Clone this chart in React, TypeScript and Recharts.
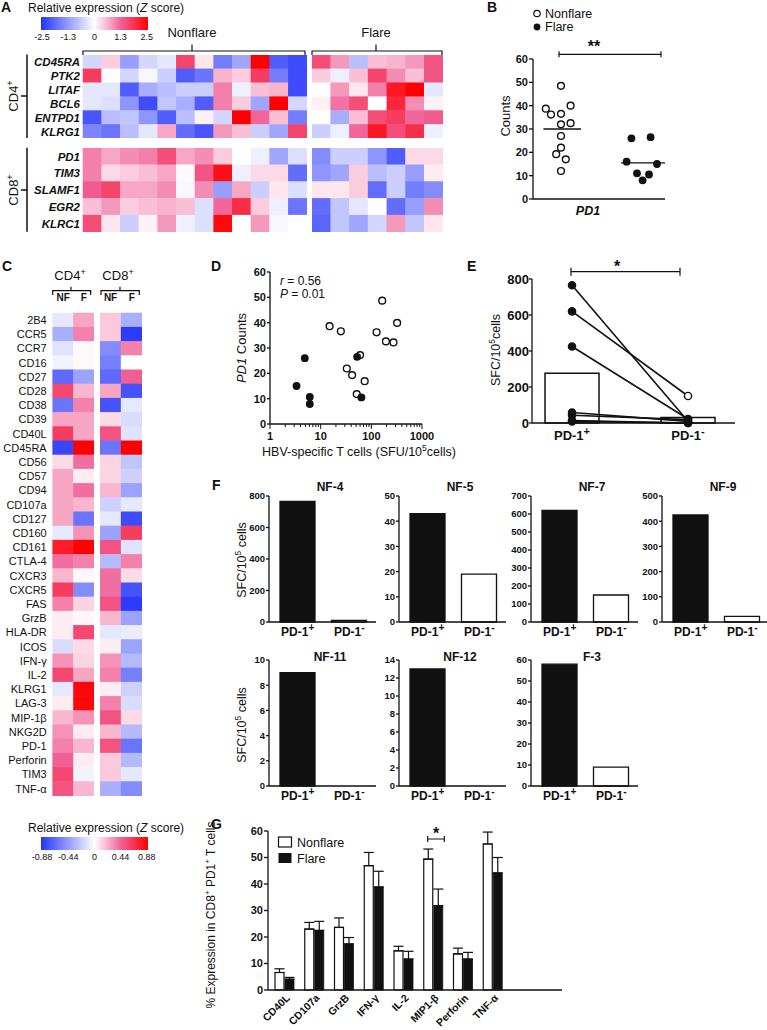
import React from 'react';
import {
  ScatterChart, Scatter, XAxis, YAxis, ComposedChart, Bar, Line, BarChart, Cell, ErrorBar, ReferenceLine,
} from 'recharts';

const FONT = '"Liberation Sans", Arial, Helvetica, sans-serif';
const INK = '#111';

/* ---------------- Panel A ---------------- */
const aGenesCD4 = ['CD45RA', 'PTK2', 'LITAF', 'BCL6', 'ENTPD1', 'KLRG1'];
const aGenesCD8 = ['PD1', 'TIM3', 'SLAMF1', 'EGR2', 'KLRC1'];
const aCD4Nonflare = [
  [-0.5, 0.4, -1.2, -0.5, -0.3, 1.6, 0.2, -1.6, -1.1, 2.5, -2.0, -2.2],
  [1.7, 0, -0.5, -0.1, -0.6, -2.0, -1.7, 0.6, 0.4, 1.7, -1.6, -2.2],
  [-0.3, -0.3, -2.0, -1.0, -0.8, -0.6, -0.6, 1.0, -0.2, 0.5, 0.6, -2.2],
  [-0.3, -0.4, -1.3, -2.2, -0.7, -1.0, -2.0, 1.0, 0.4, -1.1, 2.5, -0.5],
  [-2.1, -0.8, -0.7, -1.3, -2.0, -0.8, 0.1, -0.5, 2.5, 1.2, 0.5, -1.6],
  [-1.5, -1.7, -0.8, -0.3, 0.7, -1.8, -2.1, 0.8, 0.5, -0.6, -1.1, 1.6],
];
const aCD4Flare = [
  [1.5, 0.8, -0.8, 0.5, 0.6, 0.8, 1.4],
  [0.4, -0.2, 0.5, 1.6, 0.9, 0.5, 1.4],
  [0, 0.8, 0.2, 1.0, 2.2, 2.5, -0.3],
  [0.1, 1.1, 1.5, 0, 2.0, 0.9, 0.1],
  [0, -1.0, 0.5, 1.5, 1.7, 1.2, 1.3],
  [-0.6, -0.2, 1.2, 2.2, 1.5, 1.9, -0.2],
];
const aCD8Nonflare = [
  [1.0, 0.7, 0.9, 1.0, 1.5, 0.7, 0.9, 0.4, 0, -0.2, -1.1, -0.4],
  [1.0, 0.3, 0.4, 0.5, 0.7, 0.05, 1.4, 2.3, -0.2, 0.3, 0.3, -1.8],
  [1.3, 1.6, 0.7, 0.7, 0.9, -0.1, 0.9, -1.2, 0.7, -0.6, 0.2, -0.4],
  [0.5, 0.8, 0.4, 0.5, 0.6, 0.5, -0.4, 1.2, 1.9, 0.4, -0.2, -1.7],
  [1.5, 0.2, -0.6, 0.1, 0.8, -0.2, -0.4, 2.4, 0, 0.8, -0.1, 0],
];
const aCD8Flare = [
  [-1.4, -0.6, -0.6, -1.3, -2.0, 0.3, 0.3],
  [-1.3, -1.1, 0.4, -0.8, -0.6, -1.2, 0.15],
  [0.2, 0.2, 0.4, -1.8, -0.6, -1.6, -1.4],
  [-1.8, -0.7, -0.3, 0, -1.8, -1.2, 0.9],
  [-1.9, -0.7, -1.1, -0.5, 0.8, -0.7, 0.2],
];
const aScaleTicks = ['-2.5', '-1.3', '0', '1.3', '2.5'];
const aZMax = 2.5;

/* ---------------- Panel B ---------------- */
const bNonflareCounts = [48.5, 38.7, 36.2, 36.5, 40, 32, 32.5, 27, 22, 19.2, 17, 12];
const bNonflareJitter = [0, -0.19, -0.125, 0, 0.12, 0, 0.12, 0, 0, -0.06, 0.06, 0];
const bFlareCounts = [26, 26.5, 16, 15, 11, 10.5, 8];
const bFlareJitter = [-0.12, 0.12, -0.18, 0.2, -0.05, 0.1, 0.02];
const bMedians = [30, 15.5];
const bTicks = [0, 10, 20, 30, 40, 50, 60];

/* ---------------- Panel C ---------------- */
const cMarkers = ['2B4', 'CCR5', 'CCR7', 'CD16', 'CD27', 'CD28', 'CD38', 'CD39', 'CD40L', 'CD45RA', 'CD56', 'CD57',
  'CD94', 'CD107a', 'CD127', 'CD160', 'CD161', 'CTLA-4', 'CXCR3', 'CXCR5', 'FAS', 'GrzB', 'HLA-DR', 'ICOS',
  'IFN-γ', 'IL-2', 'KLRG1', 'LAG-3', 'MIP-1β', 'NKG2D', 'PD-1', 'Perforin', 'TIM3', 'TNF-α'];
const cCD4NF = [-0.1, -0.35, -0.12, -0.05, -0.65, 0.55, -0.6, 0.25, 0.6, -0.8, 0.1, 0.25, 0.25, 0.25, 0.25, -0.1, 0.75,
  0.4, 0.2, 0.6, 0.35, 0.05, 0.05, -0.15, 0.3, 0.55, -0.1, 0.05, 0.2, 0.3, 0.35, 0.45, 0.55, 0.5];
const cCD4F = [0.25, 0.35, 0.02, 0.02, -0.4, 0.2, 0.35, 0.25, 0.25, 0.88, 0.4, 0.05, 0.4, 0.2, -0.6, 0.3, 0.88,
  0.35, 0.02, -0.5, 0.12, 0.02, 0.55, 0.1, 0.12, 0.25, 0.85, 0.85, 0.3, 0.05, 0.2, 0.05, -0.05, 0.2];
const cCD8NF = [0.15, 0.15, -0.5, -0.55, -0.65, 0.25, -0.75, 0.1, 0.5, -0.6, 0.12, 0.12, 0.2, -0.2, -0.1, -0.4, 0.5,
  -0.3, 0.4, 0.4, 0.5, 0.2, -0.1, 0.05, 0.3, 0.35, 0.05, 0.35, 0.5, 0.2, 0.5, 0.15, 0.15, -0.35];
const cCD8F = [-0.35, -0.85, 0.35, 0, 0.45, -0.75, -0.1, -0.15, -0.12, 0.88, -0.25, -0.2, -0.4, -0.1, -0.78, 0.6,
  -0.12, 0.35, 0.1, -0.75, -0.85, -0.4, -0.08, -0.4, -0.3, -0.55, -0.2, -0.15, 0.1, -0.3, -0.6, -0.3, -0.1, -0.5];
const cGroups = ['NF', 'F'];
const cScaleTicks = ['-0.88', '-0.44', '0', '0.44', '0.88'];
const cZMax = 0.88;

/* ---------------- Panel D ---------------- */
const dNonflareSFU = [15, 25, 164, 127, 194, 274, 323, 32.8, 41.8, 73.9, 60, 51.5];
const dNonflareCounts = [38.6, 36.6, 48.7, 36.2, 32.6, 32.2, 39.9, 21.9, 19.3, 16.9, 27.2, 11.8];
const dFlareSFU = [4.86, 3.34, 52.4, 6.1, 6.1, 63.7];
const dFlareCounts = [26, 15, 26.5, 10.7, 7.9, 10.5];
const dMajorTicks = [1, 10, 100, 1000];
const dMinorTicks = [2, 3, 4, 5, 6, 7, 8, 9, 20, 30, 40, 50, 60, 70, 80, 90, 200, 300, 400, 500, 600, 700, 800, 900];
const dYTicks = [0, 10, 20, 30, 40, 50, 60];

/* ---------------- Panels E & F ---------------- */
const fSubjects = ['NF-4', 'NF-5', 'NF-7', 'NF-9', 'NF-11', 'NF-12', 'F-3'];
const fPD1Pos = [765, 43, 620, 425, 9, 13, 58];
const fPD1Neg = [10, 19, 150, 22, 0, 0, 9];
const fCategories = ['PD-1+', 'PD-1-'];
const fTicks = [
  [0, 200, 400, 600, 800],
  [0, 10, 20, 30, 40, 50],
  [0, 100, 200, 300, 400, 500, 600, 700],
  [0, 100, 200, 300, 400, 500],
  [0, 2, 4, 6, 8, 10],
  [0, 2, 4, 6, 8, 10, 12, 14],
  [0, 10, 20, 30, 40, 50, 60],
];
const eMeans = [276, 30];
const eOpenAtNeg = [false, false, true, false, false, false, false];
const eYTicks = [0, 200, 400, 600, 800];

/* ---------------- Panel G ---------------- */
const gMarkers = ['CD40L', 'CD107a', 'GrzB', 'IFN-γ', 'IL-2', 'MIP1-β', 'Perforin', 'TNF-α'];
const gNonflare = [6.6, 23.0, 23.6, 46.9, 14.8, 49.4, 13.6, 55.1];
const gNonflareSEM = [1.4, 2.5, 3.6, 5.0, 1.7, 3.8, 2.2, 4.5];
const gFlare = [4.1, 22.5, 17.4, 38.9, 11.7, 31.8, 11.7, 44.2];
const gFlareSEM = [0.65, 3.4, 2.4, 5.9, 2.9, 6.3, 2.5, 5.8];
const gTicks = [0, 10, 20, 30, 40, 50, 60];

/* ---------------- helpers ---------------- */
const BLUE = [38, 52, 250];
const PINK = [240, 96, 150];
const RED = [255, 0, 0];
const WHITE = [255, 255, 255];
function mix(a: number[], b: number[], f: number) {
  return a.map((v, i) => Math.round(v + (b[i] - v) * f));
}
function zColor(z: number, max: number) {
  const t = Math.max(-1, Math.min(1, z / max));
  let c: number[];
  if (t < 0) c = mix(WHITE, BLUE, -t);
  else if (t < 0.5) c = mix(WHITE, PINK, t / 0.5);
  else c = mix(PINK, RED, (t - 0.5) / 0.5);
  return `rgb(${c.join(',')})`;
}

const axisStyle = { stroke: INK, strokeWidth: 1.3 };

const yTick = (fs: number) => (t: any) => (
  <text x={t.x} y={t.y} dy="0.36em" textAnchor="end" fontSize={fs} fontWeight="bold" fontFamily={FONT} fill={INK}>
    {t.payload.value}
  </text>
);

const pdTick = (fs: number, dy: number, labels?: string[]) => (t: any) => {
  const v = labels ? labels[Math.round(t.payload.value) - 1] : String(t.payload.value);
  if (!v) return <g />;
  return (
    <text x={t.x} y={t.y + dy} textAnchor="middle" fontSize={fs} fontWeight="bold" fontFamily={FONT} fill={INK}>
      {v.slice(0, -1)}
      <tspan dy={-fs * 0.38} fontSize={fs * 0.85}>{v.slice(-1)}</tspan>
    </text>
  );
};

type HMProps = {
  matrix: number[][]; zMax: number; left: number; top: number; width: number; height: number;
  rowLabels?: string[]; labelWidth?: number; labelGap?: number;
  labelSize?: number; labelWeight?: string; labelStyle?: string;
  colLabels?: string[]; colLabelHeight?: number; colLabelOffset?: number;
};

function Heatmap(p: HMProps) {
  const rows = p.matrix.length;
  const cols = p.matrix[0].length;
  const cells = p.matrix.flatMap((r, i) => r.map((z, j) => ({ col: j, row: i, z })));
  const cw = p.width / cols;
  const ch = p.height / rows;
  const lw = p.rowLabels ? (p.labelWidth ?? 80) : 0;
  const th = p.colLabels ? (p.colLabelHeight ?? 18) : 0;
  const rowIdx = Array.from({ length: rows }, (_, i) => i);
  const colIdx = Array.from({ length: cols }, (_, i) => i);
  return (
    <div style={{ position: 'absolute', left: p.left - lw, top: p.top - th }}>
      <ScatterChart width={lw + p.width} height={th + p.height} margin={{ top: 0, right: 0, bottom: 0, left: 0 }}>
        <XAxis
          type="number" dataKey="col" domain={[-0.5, cols - 0.5]} orientation="top" hide={!p.colLabels}
          height={th} ticks={colIdx} interval={0} axisLine={false} tickLine={false} tickSize={0} tickMargin={0}
          tick={(t: any) => (
            <text x={t.x} y={t.y - (p.colLabelOffset ?? 4)} textAnchor="middle" fontSize={10} fontWeight="bold"
              fontFamily={FONT} fill={INK}>
              {p.colLabels ? p.colLabels[t.payload.value] : ''}
            </text>
          )}
        />
        <YAxis
          type="number" dataKey="row" domain={[-0.5, rows - 0.5]} reversed hide={!p.rowLabels} width={lw}
          ticks={rowIdx} interval={0} axisLine={false} tickLine={false} tickSize={p.labelGap ?? 3} tickMargin={0}
          tick={(t: any) => (
            <text x={t.x} y={t.y} dy="0.36em" textAnchor="end" fontSize={p.labelSize ?? 11}
              fontWeight={p.labelWeight ?? 'normal'} fontStyle={p.labelStyle ?? 'normal'} fontFamily={FONT} fill={INK}>
              {p.rowLabels ? p.rowLabels[t.payload.value] : ''}
            </text>
          )}
        />
        <Scatter
          data={cells}
          isAnimationActive={false}
          shape={(s: any) => (
            <rect x={s.cx - cw / 2 - 0.3} y={s.cy - ch / 2 - 0.3} width={cw + 0.6} height={ch + 0.6}
              fill={zColor(s.payload.z, p.zMax)} />
          )}
        />
      </ScatterChart>
    </div>
  );
}

const openDot = (r: number) => (s: any) => (
  <circle cx={s.cx} cy={s.cy} r={r} fill="#fff" stroke={INK} strokeWidth={1.4} />
);
const fillDot = (r: number) => (s: any) => <circle cx={s.cx} cy={s.cy} r={r + 0.5} fill={INK} />;

/* ---------------- Panel B chart ---------------- */
function PanelB() {
  const nf = bNonflareCounts.map((y, i) => ({ x: 1 + bNonflareJitter[i], y }));
  const fl = bFlareCounts.map((y, i) => ({ x: 2 + bFlareJitter[i], y }));
  return (
    <div style={{ position: 'absolute', left: 478, top: 49 }}>
      <ScatterChart width={195} height={160} margin={{ top: 10, right: 8, bottom: 6, left: 0 }}>
        <XAxis type="number" dataKey="x" domain={[0.65, 2.3]} tick={false} tickLine={false} height={4}
          axisLine={axisStyle} allowDataOverflow />
        <YAxis type="number" dataKey="y" domain={[0, 60]} ticks={bTicks} interval={0} width={55} tickSize={4}
          tickMargin={1} axisLine={axisStyle} tickLine={axisStyle} tick={yTick(11)} />
        <ReferenceLine segment={[{ x: 0.78, y: bMedians[0] }, { x: 1.25, y: bMedians[0] }]} stroke={INK} strokeWidth={1.3} />
        <ReferenceLine segment={[{ x: 1.75, y: bMedians[1] }, { x: 2.3, y: bMedians[1] }]} stroke={INK} strokeWidth={1.3} />
        <Scatter data={nf} isAnimationActive={false} shape={openDot(3.4)} />
        <Scatter data={fl} isAnimationActive={false} shape={fillDot(3.4)} />
      </ScatterChart>
    </div>
  );
}

/* ---------------- Panel D chart ---------------- */
function PanelD() {
  const nf = dNonflareSFU.map((x, i) => ({ x, y: dNonflareCounts[i] }));
  const fl = dFlareSFU.map((x, i) => ({ x, y: dFlareCounts[i] }));
  const xTicks = [...dMajorTicks, ...dMinorTicks].sort((a, b) => a - b);
  const xTick = (t: any) => {
    const v = t.payload.value;
    const major = dMajorTicks.includes(v);
    return (
      <g>
        <line x1={t.x} x2={t.x} y1={t.y} y2={t.y + (major ? 5 : 3)} stroke={INK} strokeWidth={1} />
        {major && (
          <text x={t.x} y={t.y + 15.5} textAnchor="middle" fontSize={11} fontWeight="bold" fontFamily={FONT} fill={INK}>
            {v}
          </text>
        )}
      </g>
    );
  };
  return (
    <div style={{ position: 'absolute', left: 230, top: 262 }}>
      <ScatterChart width={212} height={184} margin={{ top: 10, right: 20, bottom: 2, left: 0 }}>
        <XAxis type="number" dataKey="x" scale="log" domain={[1, 1000]} ticks={xTicks} interval={0} height={20}
          tickLine={false} tickSize={0} tickMargin={0} axisLine={axisStyle} tick={xTick} allowDataOverflow />
        <YAxis type="number" dataKey="y" domain={[0, 60]} ticks={dYTicks} interval={0} width={40} tickSize={3}
          tickMargin={1} axisLine={axisStyle} tickLine={axisStyle} tick={yTick(11)} />
        <Scatter data={nf} isAnimationActive={false} shape={openDot(3.4)} />
        <Scatter data={fl} isAnimationActive={false} shape={fillDot(3.4)} />
      </ScatterChart>
    </div>
  );
}

/* ---------------- Panel E chart ---------------- */
function PanelE() {
  const rows = [0, 1].map((k) => {
    const r: any = { x: k + 1, mean: eMeans[k] };
    fSubjects.forEach((_, i) => {
      r[`s${i}`] = k === 0 ? fPD1Pos[i] : fPD1Neg[i];
    });
    return r;
  });
  return (
    <div style={{ position: 'absolute', left: 482, top: 269 }}>
      <ComposedChart width={259} height={178} data={rows} margin={{ top: 10, right: 6, bottom: 2, left: 0 }}>
        <XAxis type="number" dataKey="x" domain={[0.655, 2.405]} ticks={[1, 2]} interval={0} height={22}
          tickLine={false} tickSize={0} tickMargin={0} axisLine={axisStyle} tick={pdTick(13, 17, fCategories)} />
        <YAxis type="number" domain={[0, 800]} ticks={eYTicks} interval={0} width={50} tickSize={3} tickMargin={0}
          axisLine={axisStyle} tickLine={axisStyle} tick={yTick(13)} />
        <Bar dataKey="mean" barSize={54} fill="#fff" stroke={INK} strokeWidth={1.5} isAnimationActive={false} />
        {fSubjects.map((s, i) => (
          <Line
            key={s}
            dataKey={`s${i}`}
            stroke={INK}
            strokeWidth={1.6}
            isAnimationActive={false}
            dot={(d: any) => {
              const open = d.index === 1 && eOpenAtNeg[i];
              return (
                <circle key={`${s}-${d.index}`} cx={d.cx} cy={d.cy} r={3.6} fill={open ? '#fff' : INK}
                  stroke={INK} strokeWidth={1.4} />
              );
            }}
          />
        ))}
      </ComposedChart>
    </div>
  );
}

/* ---------------- Panel F charts ---------------- */
function FPanel({ i, left, top }: { i: number; left: number; top: number }) {
  const data = [
    { cat: fCategories[0], v: fPD1Pos[i] },
    { cat: fCategories[1], v: fPD1Neg[i] },
  ];
  const ticks = fTicks[i];
  return (
    <div style={{ position: 'absolute', left: left - 36, top: top - 8 }}>
      <BarChart width={146} height={156} data={data} margin={{ top: 8, right: 3, bottom: 2, left: 0 }}>
        <XAxis dataKey="cat" height={20} padding={{ left: 3, right: 1 }} interval={0} tickLine={false} tickSize={0}
          tickMargin={0} axisLine={axisStyle} tick={pdTick(12, 14)} />
        <YAxis type="number" domain={[0, ticks[ticks.length - 1]]} ticks={ticks} interval={0} width={36} tickSize={3}
          tickMargin={1} axisLine={axisStyle} tickLine={axisStyle} tick={yTick(9.5)} />
        <Bar dataKey="v" barSize={35} stroke={INK} strokeWidth={1.3} isAnimationActive={false}>
          <Cell fill={INK} />
          <Cell fill="#fff" />
        </Bar>
      </BarChart>
    </div>
  );
}

/* ---------------- Panel G chart ---------------- */
function PanelG() {
  const rows = gMarkers.map((name, i) => ({
    name,
    nf: gNonflare[i],
    nfErr: [0, gNonflareSEM[i]],
    fl: gFlare[i],
    flErr: [0, gFlareSEM[i]],
  }));
  const rotTick = (t: any) => {
    const x = t.x + 3;
    const y = t.y + 6;
    return (
      <text x={x} y={y} dy="0.35em" transform={`rotate(-45 ${x} ${y})`} textAnchor="end" fontSize={10.5}
        fontWeight="bold" fontFamily={FONT} fill={INK}>
        {t.payload.value}
      </text>
    );
  };
  return (
    <div style={{ position: 'absolute', left: 228.3, top: 821 }}>
      <BarChart width={338} height={207} data={rows} margin={{ top: 10, right: 4, bottom: 0, left: 0 }} barGap={1}
        barSize={9}>
        <XAxis dataKey="name" height={38} padding={{ left: 2, right: 54 }} interval={0} tickLine={false} tickSize={0}
          tickMargin={0} axisLine={axisStyle} tick={rotTick} />
        <YAxis type="number" domain={[0, 60]} ticks={gTicks} interval={0} width={40} tickSize={4} tickMargin={1}
          axisLine={axisStyle} tickLine={axisStyle} tick={yTick(11)} />
        <Bar dataKey="nf" fill="#fff" stroke={INK} strokeWidth={1.2} isAnimationActive={false}>
          <ErrorBar dataKey="nfErr" width={5} stroke={INK} strokeWidth={1.2} direction="y" />
        </Bar>
        <Bar dataKey="fl" fill={INK} stroke={INK} strokeWidth={0.8} isAnimationActive={false}>
          <ErrorBar dataKey="flErr" width={5} stroke={INK} strokeWidth={1.2} direction="y" />
        </Bar>
      </BarChart>
    </div>
  );
}

/* ---------------- decorations ---------------- */
function RotLabel({ x, y, size = 13, children }: any) {
  return (
    <text x={x} y={y} transform={`rotate(-90 ${x} ${y})`} textAnchor="middle" fontSize={size} fontFamily={FONT}
      fill={INK}>
      {children}
    </text>
  );
}

function ScaleBar({ top, ticks }: { top: number; ticks: string[] }) {
  return (
    <g>
      <text x={28} y={top} fontSize={12} fontFamily={FONT} fill={INK}>
        Relative expression (<tspan fontStyle="italic">Z</tspan> score)
      </text>
      <rect x={41} y={top + 5} width={107} height={13} fill="url(#zgrad)" />
      {ticks.map((t, i) => (
        <text key={t} x={42 + i * 26.2} y={top + 28} textAnchor="middle" fontSize={9} fontFamily={FONT} fill={INK}>
          {t}
        </text>
      ))}
    </g>
  );
}

function Overlay() {
  const stops = Array.from({ length: 41 }, (_, i) => i / 40);
  const letters: [string, number, number][] = [
    ['A', 1, 12], ['B', 487, 12], ['C', 2, 271], ['D', 211, 271], ['E', 467, 271], ['F', 212, 490], ['G', 211, 829],
  ];
  const fRow1 = [269, 399, 531, 662];
  const fRow2 = [269, 399, 531];
  const ln = { stroke: INK, strokeWidth: 1.2, fill: 'none' };
  return (
    <svg width={767} height={1030} style={{ position: 'absolute', left: 0, top: 0, pointerEvents: 'none' }}>
      <defs>
        <linearGradient id="zgrad" x1="0" x2="1" y1="0" y2="0">
          {stops.map((f) => (
            <stop key={f} offset={f} stopColor={zColor(-1 + 2 * f, 1)} />
          ))}
        </linearGradient>
      </defs>
      {letters.map(([l, x, y]) => (
        <text key={l} x={x} y={y} fontSize={14} fontWeight={900} fontFamily={FONT} fill={INK}>{l}</text>
      ))}

      {/* A */}
      <ScaleBar top={12} ticks={aScaleTicks} />
      <text x={192} y={37} textAnchor="middle" fontSize={13} fontFamily={FONT} fill={INK}>Nonflare</text>
      <text x={376} y={37} textAnchor="middle" fontSize={13} fontFamily={FONT} fill={INK}>Flare</text>
      <path d="M83,55 V51 H305 V55 M192,51 V44.5" {...ln} />
      <path d="M312,55 V51 H442 V55 M376,51 V44.5" {...ln} />
      <path d="M27,54.5 V137.9 M21,96 H27" {...ln} strokeWidth={1.5} />
      <path d="M27,147.8 V231.8 M21,190 H27" {...ln} strokeWidth={1.5} />
      <RotLabel x={18} y={96}>CD4<tspan dy={-5} fontSize={9}>+</tspan></RotLabel>
      <RotLabel x={18} y={190}>CD8<tspan dy={-5} fontSize={9}>+</tspan></RotLabel>

      {/* B */}
      <circle cx={537} cy={13.5} r={3.2} fill="#fff" stroke={INK} strokeWidth={1.2} />
      <text x={545} y={17.5} fontSize={12.5} fontFamily={FONT} fill={INK}>Nonflare</text>
      <circle cx={537} cy={27} r={3.4} fill={INK} />
      <text x={545} y={31} fontSize={12.5} fontFamily={FONT} fill={INK}>Flare</text>
      <path d="M559,51.3 V57.3 M559,54.3 H661 M661,51.3 V57.3" {...ln} />
      <text x={594} y={52} textAnchor="middle" fontSize={16} fontWeight="bold" fontFamily={FONT} fill={INK}>**</text>
      <RotLabel x={510} y={116}>Counts</RotLabel>
      <text x={588} y={215} textAnchor="middle" fontSize={12.5} fontWeight="bold" fontStyle="italic" fontFamily={FONT}
        fill={INK}>PD1</text>

      {/* C */}
      <text x={70} y={280} textAnchor="middle" fontSize={13} fontFamily={FONT} fill={INK}>
        CD4<tspan dy={-5} fontSize={9}>+</tspan>
      </text>
      <text x={118} y={280} textAnchor="middle" fontSize={13} fontFamily={FONT} fill={INK}>
        CD8<tspan dy={-5} fontSize={9}>+</tspan>
      </text>
      <path d="M52.7,295 V290.7 H90.7 V295 M71,290.7 V286.7" {...ln} />
      <path d="M101,295 V290.7 H139.3 V295 M120,290.7 V286.7" {...ln} />
      <ScaleBar top={832} ticks={cScaleTicks} />

      {/* D */}
      <text x={280} y={285} fontSize={12} fontFamily={FONT} fill={INK}>
        <tspan fontStyle="italic">r</tspan> = 0.56
      </text>
      <text x={280} y={298} fontSize={12} fontFamily={FONT} fill={INK}>
        <tspan fontStyle="italic">P</tspan> = 0.01
      </text>
      <RotLabel x={246} y={348}>
        <tspan fontStyle="italic">PD1</tspan> Counts
      </RotLabel>
      <text x={359} y={456} textAnchor="middle" fontSize={12.5} fontFamily={FONT} fill={INK}>
        HBV-specific T cells (SFU/10<tspan dy={-5} fontSize={8.5}>5</tspan><tspan dy={5}>cells)</tspan>
      </text>

      {/* E */}
      <RotLabel x={500} y={350} size={12.5}>
        SFC/10<tspan dy={-5} fontSize={8.5}>5</tspan><tspan dy={5}>cells</tspan>
      </RotLabel>
      <path d="M571,267.7 V275.7 M571,271.7 H680 M680,267.7 V275.7" {...ln} />
      <text x={617} y={272} textAnchor="middle" fontSize={16} fontWeight="bold" fontFamily={FONT} fill={INK}>*</text>

      {/* F */}
      {fRow1.map((x, i) => (
        <text key={fSubjects[i]} x={x + 61} y={491} textAnchor="middle" fontSize={12} fontWeight="bold"
          fontFamily={FONT} fill={INK}>{fSubjects[i]}</text>
      ))}
      {fRow2.map((x, i) => (
        <text key={fSubjects[i + 4]} x={x + 61} y={661} textAnchor="middle" fontSize={12} fontWeight="bold"
          fontFamily={FONT} fill={INK}>{fSubjects[i + 4]}</text>
      ))}
      <RotLabel x={246} y={560} size={12.5}>
        SFC/10<tspan dy={-5} fontSize={8.5}>5</tspan><tspan dy={5}> cells</tspan>
      </RotLabel>
      <RotLabel x={246} y={725} size={12.5}>
        SFC/10<tspan dy={-5} fontSize={8.5}>5</tspan><tspan dy={5}> cells</tspan>
      </RotLabel>

      {/* G */}
      <rect x={278.5} y={837} width={13} height={10} fill="#fff" stroke={INK} strokeWidth={1.2} />
      <text x={297} y={846.5} fontSize={12.5} fontFamily={FONT} fill={INK}>Nonflare</text>
      <rect x={278.5} y={853} width={13} height={10} fill={INK} />
      <text x={297} y={862.5} fontSize={12.5} fontFamily={FONT} fill={INK}>Flare</text>
      <path d="M427.7,836 V842 M427.7,839 H444.3 M444.3,836 V842" {...ln} />
      <text x={436} y={839} textAnchor="middle" fontSize={16} fontWeight="bold" fontFamily={FONT} fill={INK}>*</text>
      <RotLabel x={215} y={915} size={12}>
        % Expression in CD8<tspan dy={-5} fontSize={8}>+</tspan><tspan dy={5}> PD1</tspan>
        <tspan dy={-5} fontSize={8}>+</tspan><tspan dy={5}> T cells</tspan>
      </RotLabel>
    </svg>
  );
}

export default function App() {
  const cMat4 = cMarkers.map((_, i) => [cCD4NF[i], cCD4F[i]]);
  const cMat8 = cMarkers.map((_, i) => [cCD8NF[i], cCD8F[i]]);
  const fRow1 = [269, 399, 531, 662];
  const fRow2 = [269, 399, 531];
  return (
    <div style={{ position: 'absolute', left: 0, top: 0, width: 767, height: 1030, overflow: 'hidden', background: '#fff',
      fontFamily: FONT }}>
      {/* Panel A */}
      <Heatmap matrix={aCD4Nonflare} zMax={aZMax} left={82.5} top={54.5} width={224} height={83.4}
        rowLabels={aGenesCD4} labelWidth={82} labelGap={3} labelSize={11.5} labelWeight="bold" labelStyle="italic" />
      <Heatmap matrix={aCD4Flare} zMax={aZMax} left={312} top={54.5} width={131} height={83.4} />
      <Heatmap matrix={aCD8Nonflare} zMax={aZMax} left={82.5} top={147.8} width={224} height={84}
        rowLabels={aGenesCD8} labelWidth={82} labelGap={3} labelSize={11.5} labelWeight="bold" labelStyle="italic" />
      <Heatmap matrix={aCD8Flare} zMax={aZMax} left={312} top={147.8} width={131} height={84} />

      {/* Panel B */}
      <PanelB />

      {/* Panel C */}
      <Heatmap matrix={cMat4} zMax={cZMax} left={52.7} top={312.9} width={41.6} height={482.8} rowLabels={cMarkers}
        labelWidth={52.7} labelGap={6} labelSize={11} colLabels={cGroups} colLabelHeight={20} colLabelOffset={12.5} />
      <Heatmap matrix={cMat8} zMax={cZMax} left={100} top={312.9} width={42.3} height={482.8} colLabels={cGroups}
        colLabelHeight={20} colLabelOffset={12.5} />

      {/* Panel D */}
      <PanelD />

      {/* Panel E */}
      <PanelE />

      {/* Panel F */}
      {fRow1.map((x, i) => <FPanel key={fSubjects[i]} i={i} left={x} top={496} />)}
      {fRow2.map((x, i) => <FPanel key={fSubjects[i + 4]} i={i + 4} left={x} top={660} />)}

      {/* Panel G */}
      <PanelG />

      <Overlay />
    </div>
  );
}
